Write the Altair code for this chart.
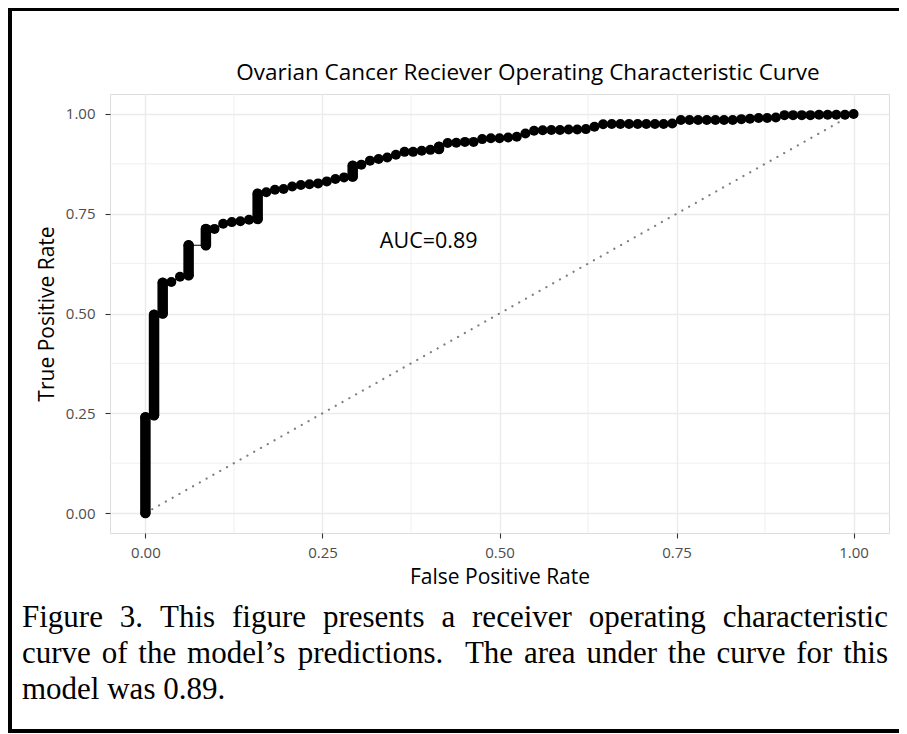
import altair as alt
import pandas as pd

# ---------------- data ----------------
fpr = [0.0, 0.0, 0.0122, 0.0122, 0.0244, 0.0244, 0.0366, 0.0488, 0.061, 0.061,
       0.0854, 0.0854, 0.0976, 0.1098, 0.122, 0.1341, 0.1463, 0.1585, 0.1585, 0.1707,
       0.1829, 0.1951, 0.2073, 0.2195, 0.2317, 0.2439, 0.2561, 0.2683, 0.2805, 0.2927,
       0.2927, 0.3049, 0.3171, 0.3293, 0.3415, 0.3537, 0.3659, 0.378, 0.3902, 0.4024,
       0.4146, 0.4146, 0.4268, 0.439, 0.4512, 0.4634, 0.4756, 0.4878, 0.5, 0.5122,
       0.5244, 0.5366, 0.5488, 0.561, 0.5732, 0.5854, 0.5976, 0.6098, 0.622, 0.6341,
       0.6463, 0.6585, 0.6707, 0.6829, 0.6951, 0.7073, 0.7195, 0.7317, 0.7439, 0.7561,
       0.7683, 0.7805, 0.7927, 0.8049, 0.8171, 0.8293, 0.8415, 0.8537, 0.8659, 0.878,
       0.8902, 0.9024, 0.9146, 0.9268, 0.939, 0.9512, 0.9634, 0.9756, 0.9878, 1.0]
tpr = [0.0, 0.24, 0.245, 0.497, 0.50, 0.577, 0.579, 0.592, 0.596, 0.671,
       0.671, 0.712, 0.712, 0.725, 0.729, 0.731, 0.735, 0.737, 0.800, 0.804,
       0.810, 0.812, 0.818, 0.822, 0.824, 0.826, 0.831, 0.837, 0.841, 0.843,
       0.870, 0.873, 0.883, 0.887, 0.891, 0.898, 0.905, 0.905, 0.908, 0.910,
       0.912, 0.918, 0.927, 0.928, 0.930, 0.930, 0.937, 0.939, 0.939, 0.941,
       0.943, 0.951, 0.958, 0.959, 0.960, 0.960, 0.961, 0.961, 0.962, 0.968,
       0.974, 0.975, 0.975, 0.975, 0.975, 0.975, 0.975, 0.975, 0.976, 0.985,
       0.985, 0.985, 0.985, 0.985, 0.985, 0.985, 0.987, 0.988, 0.990, 0.990,
       0.991, 0.997, 0.997, 0.997, 0.997, 0.998, 0.998, 0.998, 0.998, 1.0]

# vertical runs of overlapping points (same FPR, rising TPR)
run_fpr = [0.0, 0.0122, 0.0244, 0.061, 0.0854, 0.1585, 0.2927, 0.4146]
run_lo = [0.0, 0.245, 0.50, 0.596, 0.671, 0.737, 0.843, 0.912]
run_hi = [0.24, 0.497, 0.577, 0.671, 0.712, 0.800, 0.870, 0.918]

diag_x = [0.0, 1.0]
diag_y = [0.0, 1.0]

major_ticks = [0.0, 0.25, 0.5, 0.75, 1.0]
minor_ticks = [0.125, 0.375, 0.625, 0.875]

auc_x = [0.40]
auc_y = [0.68]
auc_label = ["AUC=0.89"]

title_text = "Ovarian Cancer Reciever Operating Characteristic Curve"
x_title = "False Positive Rate"
y_title = "True Positive Rate"

caption_lines = [
    "Figure 3. This figure presents a receiver operating characteristic",
    "curve of the model\u2019s predictions.  The area under the curve for this",
    "model was 0.89.",
]
caption_justify = [True, True, False]

# ---------------- layout ----------------
PLOT_LEFT, PLOT_TOP = 110, 94
W, H = 779, 439
SANS = "Open Sans"
SERIF = "Liberation Serif"
CAP_SIZE = 31
CAP_LEFT, CAP_RIGHT = 22, 888
CAP_BASE = [627, 663, 699]
TITLE_CX, TITLE_BASE = 528, 80

TIMES = {" ": 250, ".": 250, "3": 500, "0": 500, "8": 500, "9": 500, "F": 556,
         "T": 611, "a": 444, "c": 444, "d": 500, "e": 444, "f": 333, "g": 500,
         "h": 500, "i": 278, "l": 278, "m": 778, "n": 500, "o": 500, "p": 500,
         "r": 333, "s": 389, "t": 278, "u": 500, "v": 500, "w": 722, "\u2019": 333}


def tw(s):
    return sum(TIMES.get(c, 500) for c in s) * CAP_SIZE / 1000.0


rows = []
for line, just, base in zip(caption_lines, caption_justify, CAP_BASE):
    if just:
        toks = line.split(" ")
        total = sum(tw(t) for t in toks)
        gap = (CAP_RIGHT - CAP_LEFT - total) / (len(toks) - 1)
        xpos = CAP_LEFT
        for t in toks:
            if t:
                rows.append({"px": xpos - PLOT_LEFT, "py": base - PLOT_TOP, "w": t})
            xpos += tw(t) + gap
    else:
        rows.append({"px": CAP_LEFT - PLOT_LEFT, "py": base - PLOT_TOP, "w": line})
caption_df = pd.DataFrame(rows)

xs = alt.Scale(domain=[-0.05, 1.05], nice=False, zero=False)
ys = alt.Scale(domain=[-0.05, 1.05], nice=False, zero=False)

common_axis = dict(
    values=major_ticks, format=".2f", grid=True, gridColor="#EBEBEB", gridWidth=1.4,
    domain=False, ticks=True, tickColor="#333333", tickWidth=1.1, tickSize=5,
    labelFont=SANS, labelFontSize=15, labelColor="#4D4D4D",
    titleFont=SANS, titleFontSize=21, titleColor="black", titleFontWeight="normal",
)
x_axis = alt.Axis(title=x_title, labelPadding=7, titleY=44, titleBaseline="middle",
                  **common_axis)
y_axis = alt.Axis(title=y_title, labelPadding=10, titleX=-63, titleY=H / 2,
                  titleAngle=-90, titleBaseline="middle", **common_axis)

roc = pd.DataFrame({"fpr": fpr, "tpr": tpr, "step": list(range(len(fpr)))})
runs = pd.DataFrame({"fpr": run_fpr, "lo": run_lo, "hi": run_hi})
diag = pd.DataFrame({"x": diag_x, "y": diag_y})
minor = pd.DataFrame({"v": minor_ticks})
auc = pd.DataFrame({"x": auc_x, "y": auc_y, "t": auc_label})

X = lambda f: alt.X(f, scale=xs, axis=x_axis)
Y = lambda f: alt.Y(f, scale=ys, axis=y_axis)

minor_v = alt.Chart(minor).mark_rule(color="#EBEBEB", strokeWidth=0.8).encode(x=X("v:Q"))
minor_h = alt.Chart(minor).mark_rule(color="#EBEBEB", strokeWidth=0.8).encode(y=Y("v:Q"))

diag_line = alt.Chart(diag).mark_line(
    color="#7F7F7F", strokeWidth=2.2, strokeDash=[0.1, 7.7], strokeCap="round"
).encode(x=X("x:Q"), y=Y("y:Q"))

path = alt.Chart(roc).mark_line(color="black", strokeWidth=1).encode(
    x=X("fpr:Q"), y=Y("tpr:Q"), order="step:Q")

run_marks = alt.Chart(runs).mark_rule(color="black", strokeWidth=10.5, strokeCap="round").encode(
    x=X("fpr:Q"), y=Y("lo:Q"), y2="hi:Q")

pts = alt.Chart(roc).mark_circle(color="black", size=100, opacity=1).encode(
    x=X("fpr:Q"), y=Y("tpr:Q"))

auc_text = alt.Chart(auc).mark_text(
    font=SANS, fontSize=21.5, color="black", align="center", baseline="middle"
).encode(x=X("x:Q"), y=Y("y:Q"), text="t:N")

plot = alt.layer(minor_v, minor_h, diag_line, path, run_marks, pts, auc_text)

caption = alt.Chart(caption_df).mark_text(
    font=SERIF, fontSize=CAP_SIZE, color="black", align="left", baseline="alphabetic"
).encode(
    x=alt.X("px:Q", scale=None, axis=None),
    y=alt.Y("py:Q", scale=None, axis=None),
    text="w:N",
)

title_df = pd.DataFrame({"px": [TITLE_CX - PLOT_LEFT], "py": [TITLE_BASE - PLOT_TOP],
                         "t": [title_text]})
title_mark = alt.Chart(title_df).mark_text(
    font=SANS, fontSize=22.5, color="black", align="center", baseline="alphabetic"
).encode(
    x=alt.X("px:Q", scale=None, axis=None),
    y=alt.Y("py:Q", scale=None, axis=None),
    text="t:N",
)

border = alt.Chart(pd.DataFrame({"a": [0]})).mark_rect(
    fillOpacity=0, stroke="black", strokeWidth=4
).encode(
    x=alt.value(10 - PLOT_LEFT), x2=alt.value(901 - PLOT_LEFT),
    y=alt.value(9 - PLOT_TOP), y2=alt.value(731 - PLOT_TOP),
)

chart = alt.layer(plot, caption, title_mark, border).resolve_scale(
    x="independent", y="independent"
).properties(
    width=W, height=H,
    autosize=alt.AutoSizeParams(type="none"),
    padding={"left": PLOT_LEFT - 8, "top": PLOT_TOP - 8, "right": 10,
             "bottom": 726 - (PLOT_TOP - 8) - H},
).configure_view(
    stroke="#555555", strokeWidth=1.2
).configure(background="white")

chart.save("out.html", embed_options={"renderer": "svg", "actions": False})
